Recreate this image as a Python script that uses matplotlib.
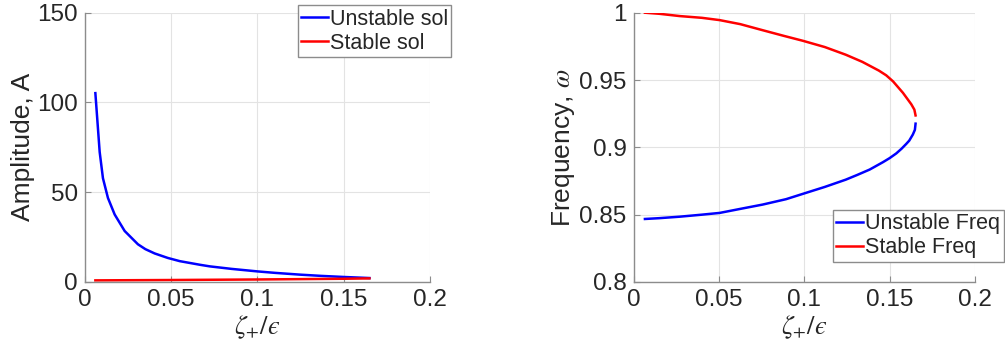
import matplotlib
matplotlib.use("Agg")
import matplotlib.pyplot as plt

# values
amp_x_unstable = [0.006, 0.0071, 0.0085, 0.0104, 0.0133, 0.0172, 0.023, 0.0307, 0.035, 0.0404,
                  0.048, 0.055, 0.0666, 0.0724, 0.085, 0.1, 0.11, 0.1246, 0.137, 0.15, 0.165]
amp_unstable = [105.2, 90.8, 72.4, 57.8, 46.8, 37.6, 28.4, 21.0, 18.3, 15.9,
                13.4, 11.6, 9.6, 8.7, 7.3, 5.9, 5.1, 4.1, 3.4, 2.8, 2.2]
amp_x_stable = [0.006, 0.05, 0.1, 0.15, 0.165]
amp_stable = [0.9, 1.1, 1.4, 1.8, 2.0]

freq_x_stable = [0.0066, 0.015, 0.027, 0.04, 0.0504, 0.0625, 0.0756, 0.088, 0.099, 0.112,
                 0.1243, 0.134, 0.1437, 0.148, 0.152, 0.1578, 0.1627, 0.1645, 0.1652]
freq_stable = [1.0, 0.9992, 0.9975, 0.9962, 0.9945, 0.9915, 0.987, 0.9828, 0.9792, 0.9745,
               0.9688, 0.9635, 0.957, 0.9535, 0.949, 0.9405, 0.932, 0.928, 0.9237]
freq_x_unstable = [0.0066, 0.015, 0.027, 0.04, 0.0504, 0.0625, 0.0756, 0.0893, 0.1, 0.112,
                   0.1243, 0.131, 0.1383, 0.1461, 0.15, 0.1539, 0.157, 0.1597, 0.1615,
                   0.1636, 0.1648, 0.1652]
freq_unstable = [0.8468, 0.8474, 0.8485, 0.850, 0.8513, 0.8543, 0.8575, 0.8615, 0.8658, 0.8706,
                 0.876, 0.8795, 0.8835, 0.889, 0.892, 0.8955, 0.899, 0.9025, 0.905,
                 0.9095, 0.913, 0.9176]

x_ticks = [0, 0.05, 0.1, 0.15, 0.2]
x_ticklabels = ["0", "0.05", "0.1", "0.15", "0.2"]
amp_ticks = [0, 50, 100, 150]
amp_ticklabels = ["0", "50", "100", "150"]
freq_ticks = [0.8, 0.85, 0.9, 0.95, 1.0]
freq_ticklabels = ["0.8", "0.85", "0.9", "0.95", "1"]

plt.rcParams["font.family"] = ["Liberation Sans", "DejaVu Sans"]
plt.rcParams["mathtext.fontset"] = "stix"
TICK_FS = 17.5
LAB_FS = 19
LEG_FS = 15.5
TXT = "#262626"
AXC = "#8c8c8c"


def style_axes(ax):
    ax.spines["top"].set_visible(False)
    ax.spines["right"].set_visible(False)
    for s in ["left", "bottom"]:
        ax.spines[s].set_color(AXC)
        ax.spines[s].set_linewidth(1.0)
    ax.tick_params(direction="in", length=4, width=0.8, color=AXC,
                   labelsize=TICK_FS, labelcolor=TXT, pad=5)
    ax.grid(True, color="#e3e3e3", linewidth=0.8)
    ax.set_axisbelow(True)
    ax.set_xlim(0, 0.2)
    ax.set_xticks(x_ticks)
    ax.set_xticklabels(x_ticklabels)
    ax.set_xlabel("$\\zeta_{+}/\u03f5$", fontsize=LAB_FS, color=TXT, labelpad=2)


def add_legend(ax, fig, x0, y0):
    ax.legend(loc="upper left", bbox_to_anchor=(x0 / 1005, 1 - y0 / 360),
              bbox_transform=fig.transFigure, fontsize=LEG_FS, frameon=True, fancybox=False,
              edgecolor=AXC, framealpha=1, borderaxespad=0, borderpad=0.15,
              handlelength=1.25, handletextpad=0.1, labelspacing=0.15, labelcolor=TXT)


fig = plt.figure(figsize=(10.05, 3.6), dpi=100)
ax1 = fig.add_axes([0.0846, 0.2167, 0.343, 0.748])
ax2 = fig.add_axes([0.6305, 0.2167, 0.3396, 0.748])

style_axes(ax1)
ax1.plot(amp_x_unstable, amp_unstable, color=(0, 0, 1), lw=1.8, label="Unstable sol")
ax1.plot(amp_x_stable, amp_stable, color=(1, 0, 0), lw=1.8, label="Stable sol")
ax1.set_ylim(0, 150)
ax1.set_yticks(amp_ticks)
ax1.set_yticklabels(amp_ticklabels)
ax1.set_ylabel("Amplitude, A", fontsize=LAB_FS, color=TXT, labelpad=2)
add_legend(ax1, fig, 297.7, 5.3)

style_axes(ax2)
ax2.plot(freq_x_unstable, freq_unstable, color=(0, 0, 1), lw=1.8, label="Unstable Freq")
ax2.plot(freq_x_stable, freq_stable, color=(1, 0, 0), lw=1.8, label="Stable Freq")
ax2.set_ylim(0.8, 1.0)
ax2.set_yticks(freq_ticks)
ax2.set_yticklabels(freq_ticklabels)
ax2.set_ylabel(r"Frequency, $\omega$", fontsize=LAB_FS, color=TXT, labelpad=2)
add_legend(ax2, fig, 833, 210)

fig.savefig("out.png", dpi=100)
